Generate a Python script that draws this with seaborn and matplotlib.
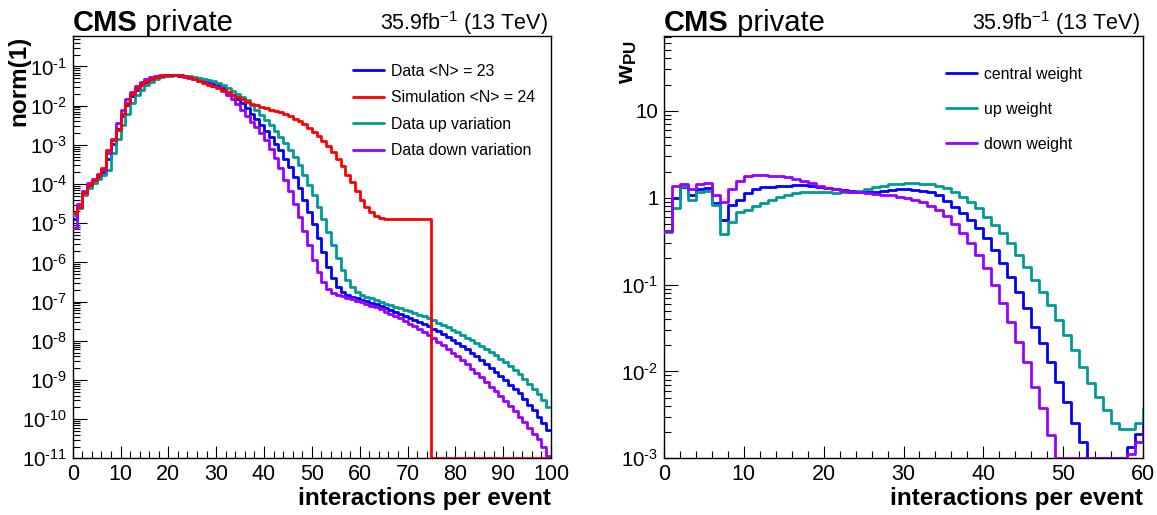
import numpy as np
import pandas as pd
import matplotlib
matplotlib.use("Agg")
import matplotlib.pyplot as plt
import seaborn as sns
from matplotlib.ticker import LogLocator, NullFormatter, MultipleLocator, FuncFormatter

# ---------------- data (log10 of bin contents, bins of width 1) ----------------
left_edges = np.arange(0, 101)
data_log10 = [
    -4.90, -4.60, -4.25, -4.06, -3.93, -3.81, -3.70, -3.35, -2.98, -2.60,
    -2.27, -1.98, -1.76, -1.60, -1.48, -1.39, -1.32, -1.28, -1.25, -1.23,
    -1.22, -1.22, -1.23, -1.25, -1.28, -1.31, -1.34, -1.37, -1.40, -1.44,
    -1.48, -1.56, -1.65, -1.73, -1.82, -1.94, -2.07, -2.20, -2.35, -2.50,
    -2.64, -2.80, -2.97, -3.14, -3.35, -3.56, -3.82, -4.11, -4.41, -4.71,
    -5.02, -5.39, -5.73, -6.11, -6.41, -6.62, -6.75, -6.83, -6.88, -6.92,
    -6.95, -6.99, -7.03, -7.07, -7.12, -7.17, -7.21, -7.26, -7.31, -7.36,
    -7.41, -7.46, -7.52, -7.57, -7.63, -7.69, -7.76, -7.83, -7.90, -7.97,
    -8.05, -8.13, -8.21, -8.30, -8.39, -8.49, -8.59, -8.69, -8.79, -8.90,
    -9.01, -9.12, -9.23, -9.34, -9.48, -9.63, -9.78, -9.94, -10.10, -10.28]
sim_log10 = [
    -4.75, -4.58, -4.24, -4.03, -3.90, -3.77, -3.60, -3.14, -2.88, -2.62,
    -2.20, -1.94, -1.69, -1.56, -1.45, -1.37, -1.31, -1.27, -1.24, -1.22,
    -1.21, -1.21, -1.22, -1.24, -1.27, -1.31, -1.36, -1.41, -1.46, -1.51,
    -1.56, -1.61, -1.66, -1.72, -1.78, -1.84, -1.90, -1.95, -1.99, -2.03,
    -2.06, -2.10, -2.13, -2.16, -2.21, -2.27, -2.33, -2.39, -2.47, -2.56,
    -2.67, -2.78, -2.90, -3.03, -3.18, -3.35, -3.54, -3.76, -3.96, -4.17,
    -4.40, -4.58, -4.72, -4.82, -4.86, -4.88, -4.88, -4.88, -4.88, -4.88,
    -4.88, -4.88, -4.88, -4.88, -4.88, -np.inf, -np.inf, -np.inf, -np.inf, -np.inf,
    -np.inf, -np.inf, -np.inf, -np.inf, -np.inf, -np.inf, -np.inf, -np.inf, -np.inf, -np.inf,
    -np.inf, -np.inf, -np.inf, -np.inf, -np.inf, -np.inf, -np.inf, -np.inf, -np.inf, -np.inf]
up_log10 = [
    -4.79, -4.62, -4.28, -4.11, -3.98, -3.86, -3.77, -3.65, -3.22, -2.86,
    -2.50, -2.20, -1.94, -1.73, -1.60, -1.48, -1.39, -1.32, -1.28, -1.25,
    -1.23, -1.22, -1.22, -1.23, -1.25, -1.27, -1.30, -1.32, -1.35, -1.38,
    -1.41, -1.48, -1.56, -1.62, -1.69, -1.77, -1.86, -1.99, -2.11, -2.24,
    -2.37, -2.50, -2.64, -2.80, -2.95, -3.12, -3.31, -3.52, -3.78, -4.03,
    -4.29, -4.59, -4.88, -5.22, -5.56, -5.90, -6.20, -6.45, -6.64, -6.76,
    -6.83, -6.88, -6.92, -6.96, -7.00, -7.05, -7.09, -7.13, -7.17, -7.21,
    -7.25, -7.29, -7.33, -7.38, -7.43, -7.48, -7.54, -7.60, -7.66, -7.72,
    -7.78, -7.85, -7.92, -7.99, -8.06, -8.13, -8.20, -8.28, -8.37, -8.46,
    -8.55, -8.64, -8.74, -8.84, -8.97, -9.10, -9.23, -9.37, -9.52, -9.68]
down_log10 = [
    -5.12, -4.51, -4.18, -3.98, -3.86, -3.75, -3.63, -3.22, -2.85, -2.45,
    -2.11, -1.84, -1.66, -1.50, -1.40, -1.32, -1.27, -1.24, -1.22, -1.21,
    -1.21, -1.22, -1.24, -1.26, -1.29, -1.32, -1.36, -1.40, -1.44, -1.49,
    -1.53, -1.62, -1.72, -1.83, -1.96, -2.10, -2.26, -2.41, -2.55, -2.70,
    -2.88, -3.10, -3.34, -3.60, -3.89, -4.19, -4.50, -4.84, -5.19, -5.56,
    -5.93, -6.25, -6.50, -6.68, -6.77, -6.82, -6.86, -6.90, -6.94, -6.98,
    -7.02, -7.06, -7.11, -7.15, -7.20, -7.26, -7.31, -7.37, -7.43, -7.50,
    -7.56, -7.63, -7.70, -7.78, -7.86, -7.94, -8.03, -8.12, -8.21, -8.30,
    -8.40, -8.50, -8.60, -8.71, -8.82, -8.93, -9.05, -9.17, -9.29, -9.41,
    -9.54, -9.67, -9.80, -9.94, -10.08, -10.22, -10.37, -10.52, -10.70, -10.95]

right_edges = np.arange(0, 62)
central_w_log10 = [
    -0.383, -0.007, 0.127, 0.031, 0.100, 0.115, -0.065, -0.257, -0.084, -0.027,
    0.050, 0.096, 0.119, 0.128, 0.134, 0.138, 0.142, 0.142, 0.138, 0.126,
    0.115, 0.100, 0.088, 0.077, 0.069, 0.065, 0.065, 0.077, 0.088, 0.096,
    0.096, 0.092, 0.078, 0.063, 0.027, -0.036, -0.103, -0.180, -0.257, -0.353,
    -0.468, -0.602, -0.755, -0.909, -1.081, -1.273, -1.484, -1.676, -1.887, -2.117,
    -2.347, -2.597, -2.808, -np.inf, -np.inf, -np.inf, -np.inf, -np.inf, -2.865, -2.720,
    -2.550]
up_w_log10 = [
    -0.400, -0.120, 0.140, -0.027, 0.070, 0.080, -0.090, -0.420, -0.276, -0.170,
    -0.142, -0.100, -0.061, -0.023, 0.011, 0.035, 0.054, 0.065, 0.069, 0.067,
    0.063, 0.059, 0.061, 0.069, 0.080, 0.100, 0.119, 0.138, 0.155, 0.163,
    0.170, 0.170, 0.163, 0.154, 0.137, 0.110, 0.069, 0.012, -0.046, -0.122,
    -0.218, -0.314, -0.410, -0.525, -0.659, -0.793, -0.947, -1.081, -1.235, -1.408,
    -1.580, -1.753, -1.945, -2.137, -2.291, -2.444, -2.597, -2.666, -2.666, -2.597,
    -2.420]
down_w_log10 = [
    -0.380, 0.130, 0.155, 0.096, 0.157, 0.169, 0.027, -0.050, 0.098, 0.190,
    0.252, 0.261, 0.257, 0.253, 0.249, 0.234, 0.211, 0.195, 0.165, 0.134,
    0.115, 0.096, 0.080, 0.069, 0.061, 0.050, 0.042, 0.034, 0.027, 0.011,
    -0.004, -0.023, -0.052, -0.094, -0.142, -0.214, -0.303, -0.410, -0.525, -0.659,
    -0.813, -1.004, -1.215, -1.426, -1.656, -1.887, -2.174, -2.424, -2.731, -np.inf,
    -np.inf, -np.inf, -np.inf, -np.inf, -np.inf, -np.inf, -np.inf, -np.inf, -2.950, -2.808,
    -2.600]

left_labels = ["Data <N> = 23", "Simulation <N> = 24", "Data up variation", "Data down variation"]
right_labels = ["central weight", "up weight", "down weight"]
c_blue, c_red, c_teal, c_purple = "#0000ff", "#ff0000", "#009b98", "#9900ff"

# ---------------- style ----------------
sns.set_theme(style="ticks")
plt.rcParams['font.family'] = ['Liberation Sans', 'DejaVu Sans']
plt.rcParams['mathtext.fontset'] = 'custom'
plt.rcParams['mathtext.rm'] = 'Liberation Sans'
plt.rcParams['mathtext.it'] = 'Liberation Sans:italic'
plt.rcParams['mathtext.bf'] = 'Liberation Sans:bold'
plt.rcParams['mathtext.sf'] = 'Liberation Sans'
for k in ('text.color', 'axes.labelcolor', 'xtick.color', 'ytick.color', 'axes.edgecolor'):
    plt.rcParams[k] = 'black'

W, H = 1157, 515
fig = plt.figure(figsize=(W / 100, H / 100), dpi=100)
axL = fig.add_axes([72.7 / W, 1 - 458.3 / H, 478.3 / W, 422.3 / H])
axR = fig.add_axes([664 / W, 1 - 458.3 / H, 479 / W, 422.3 / H])

LW = 2.0


def draw(ax, edges, logvals, color, label, ymin, z):
    vals = 10.0 ** np.asarray(logvals, dtype=float)
    v = np.where(vals > 0, vals, ymin)
    y = np.append(v, v[-1])
    df = pd.DataFrame({'x': edges, 'y': y})
    sns.lineplot(data=df, x='x', y='y', drawstyle='steps-post', color=color,
                 lw=LW, label=label, ax=ax, zorder=z, estimator=None, sort=False)


# left panel
axL.set_yscale('log')
yminL, ymaxL = 1e-11, 0.6
draw(axL, left_edges, data_log10, c_blue, left_labels[0], yminL, 2)
draw(axL, left_edges, up_log10, c_teal, left_labels[2], yminL, 3)
draw(axL, left_edges, down_log10, c_purple, left_labels[3], yminL, 4)
draw(axL, left_edges, sim_log10, c_red, left_labels[1], yminL, 5)
axL.set_xlim(0, 100)
axL.set_ylim(yminL, ymaxL)

# right panel
axR.set_yscale('log')
yminR, ymaxR = 1e-3, 72.6
draw(axR, right_edges, central_w_log10, c_blue, right_labels[0], yminR, 2)
draw(axR, right_edges, up_w_log10, c_teal, right_labels[1], yminR, 3)
draw(axR, right_edges, down_w_log10, c_purple, right_labels[2], yminR, 4)
axR.set_xlim(0, 60)
axR.set_ylim(yminR, ymaxR)


def log_fmt(v, pos):
    if v >= 1:
        return "%d" % round(v)
    return r"$\mathdefault{10^{\text{-}%d}}$" % round(-np.log10(v))


for ax in (axL, axR):
    ax.set_facecolor('white')
    ax.xaxis.set_major_locator(MultipleLocator(10))
    ax.xaxis.set_minor_locator(MultipleLocator(2))
    ax.yaxis.set_major_locator(LogLocator(base=10, numticks=40))
    ax.yaxis.set_minor_locator(LogLocator(base=10, subs=np.arange(2, 10), numticks=40))
    ax.yaxis.set_major_formatter(FuncFormatter(log_fmt))
    ax.yaxis.set_minor_formatter(NullFormatter())
    ax.tick_params(which='both', direction='in', top=False, right=False,
                   bottom=True, left=True, colors='black', width=0.8)
    ax.tick_params(axis='x', which='major', length=9, pad=4, labelsize=15.5)
    ax.tick_params(axis='x', which='minor', length=5)
    ax.tick_params(axis='y', which='major', length=10, pad=4, labelsize=14.8)
    ax.tick_params(axis='y', which='minor', length=5)
    for s in ax.spines.values():
        s.set_visible(True)
        s.set_color('black')
        s.set_linewidth(1.0)
    ax.set_xlabel('interactions per event', fontsize=17.5, fontweight='bold', loc='right')
    ax.xaxis.set_label_coords(1.0, -0.068)
    t = ax.text(0.0, 1.0107, 'CMS', transform=ax.transAxes, fontsize=21,
                fontweight='bold', ha='left', va='baseline')
    ax.annotate(' private', xy=(1, 0), xycoords=t, fontsize=21, ha='left', va='bottom')
    ax.text(0.994, 1.015, r'35.9fb$^{-1}$ (13 TeV)', transform=ax.transAxes,
            fontsize=15.5, ha='right', va='baseline')

axL.set_ylabel('norm(1)', fontsize=17.5, fontweight='bold', loc='top')
axL.yaxis.set_label_coords(-0.089, 1.0)
axR.set_ylabel(r'$\mathbf{w_{PU}}$', fontsize=17.5, loc='top')
axR.yaxis.set_label_coords(-0.052, 0.99)

# legends
hL, lL = axL.get_legend_handles_labels()
order = [lL.index(s) for s in left_labels]
axL.legend([hL[i] for i in order], [lL[i] for i in order], loc='upper left',
           bbox_to_anchor=(353 / W, 1 - 64 / H), bbox_transform=fig.transFigure,
           frameon=False, fontsize=11.4, handlelength=1.95, handletextpad=0.45,
           labelspacing=0.72, borderpad=0, borderaxespad=0)
hR, lR = axR.get_legend_handles_labels()
axR.legend(hR, lR, loc='upper left',
           bbox_to_anchor=(946 / W, 1 - 67 / H), bbox_transform=fig.transFigure,
           frameon=False, fontsize=11.4, handlelength=1.95, handletextpad=0.45,
           labelspacing=1.26, borderpad=0, borderaxespad=0)

fig.savefig('out.png', dpi=100, facecolor='white')
